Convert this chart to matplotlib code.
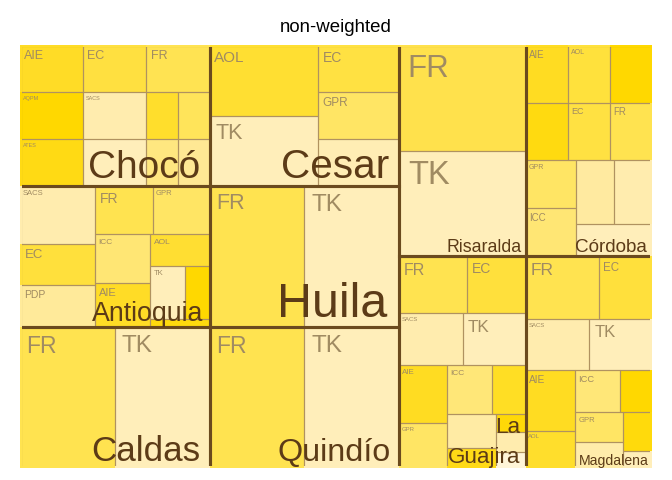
"""
Treemap of the non-weighted category shares per department.

The cells come from a squarified layout (rows start top-left, a row keeps
growing while the aspect ratio of its first cell does not get worse).
"""

import matplotlib
matplotlib.use('Agg')
import matplotlib.pyplot as plt
from matplotlib.patches import Rectangle

plt.rcParams['font.family'] = ['Liberation Sans', 'DejaVu Sans']

# ---- data -----------------------------------------------------------------
departments = ['Chocó', 'Antioquia', 'Caldas', 'Cesar', 'Huila', 'Quindío',
               'Risaralda', 'Córdoba', 'La Guajira', 'Magdalena']
dept_weight = [1, 1, 1, 1, 1, 1, 1, 1, 1, 1]   # non-weighted: equal share

sub_labels = {
    'Chocó':      ['AIE', 'AQPM', 'ATES', 'EC', 'FR', 'SACS', 'TK', '', '', '', ''],
    'Antioquia':  ['SACS', 'EC', 'PDP', 'FR', 'GPR', 'ICC', 'AIE', 'AOL', 'TK', 'AQPM', 'ATES'],
    'Caldas':     ['FR', 'TK'],
    'Cesar':      ['AOL', 'TK', 'EC', 'GPR', ''],
    'Huila':      ['FR', 'TK'],
    'Quindío':    ['FR', 'TK'],
    'Risaralda':  ['FR', 'TK'],
    'Córdoba':    ['AIE', 'AOL', 'AQPM', 'ATES', 'EC', 'FR', 'GPR', 'ICC', 'PDP', 'SACS', 'TK'],
    'La Guajira': ['FR', 'EC', 'SACS', 'TK', 'AIE', 'GPR', 'ICC', 'AOL', '', '', '', '', ''],
    'Magdalena':  ['FR', 'EC', 'SACS', 'TK', 'AIE', 'AOL', 'ICC', '', 'GPR', '', '', ''],
}
# share (%) of each category inside its department
sub_values = {
    'Chocó':      [11.1, 11.1, 11.1, 11.1, 11.1, 11.1, 11.1, 5.55, 5.55, 5.55, 5.55],
    'Antioquia':  [16.2, 11.7, 11.7, 10.4, 10.3, 10.1, 9.0, 7.0, 7.0, 4.8, 1.8],
    'Caldas':     [50, 50],
    'Cesar':      [28.6, 28.6, 14.3, 14.3, 14.3],
    'Huila':      [50, 50],
    'Quindío':    [50, 50],
    'Risaralda':  [50, 50],
    'Córdoba':    [9.09] * 11,
    'La Guajira': [14.5, 12.4, 12.3, 12.2, 10.4, 8.1, 8.2, 6.1, 6.1, 3.7, 2.04, 2.15, 1.81],
    'Magdalena':  [17.2, 12.3, 12.2, 12.0, 11.2, 6.9, 7.2, 5.0, 5.3, 4.7, 4.2, 1.8],
}

# ---- style ----------------------------------------------------------------
fills = {
    'Chocó':      ['#FFDC26', '#FFD800', '#FFDA14', '#FFE040', '#FFE352', '#FFECAE', '#FFEEBA',
                   '#FFDE2C', '#FFE45A', '#FFE780', '#FFE894'],
    'Antioquia':  ['#FFECAE', '#FFE03C', '#FFEA9A', '#FFE350', '#FFE564', '#FFE674', '#FFDC26',
                   '#FFDE32', '#FFEEBA', '#FFD800', '#FFDA0E'],
    'Caldas':     ['#FFE350', '#FFEEBA'],
    'Cesar':      ['#FFDF32', '#FFEEBA', '#FFE142', '#FFE564', '#FFEDB4'],
    'Huila':      ['#FFE350', '#FFEEBA'],
    'Quindío':    ['#FFE350', '#FFEEBA'],
    'Risaralda':  ['#FFE14C', '#FFEEBA'],
    'Córdoba':    ['#FFDC22', '#FFE13C', '#FFD800', '#FFDA10', '#FFE142', '#FFE350', '#FFE564',
                   '#FFE674', '#FFEAA0', '#FFECAE', '#FFEEBA'],
    'La Guajira': ['#FFE350', '#FFE03C', '#FFECAE', '#FFEEBA', '#FFDC22', '#FFE564', '#FFE778',
                   '#FFDE24', '#FFEBA4', '#FFDA16', '#FFD808', '#FFECAE', '#FFF5D8'],
    'Magdalena':  ['#FFE350', '#FFE03C', '#FFECAE', '#FFEEBA', '#FFDC22', '#FFDE2C', '#FFE778',
                   '#FFD800', '#FFE564', '#FFECAA', '#FFDA0C', '#FFEEBA'],
}
# label size (pt) of each category, 0 = not printed
sub_label_pt = {
    'Chocó':      [9, 4, 4, 9, 9, 4, 0, 0, 0, 0, 0],
    'Antioquia':  [5.5, 9.5, 7.5, 10, 5.5, 6, 8, 6, 5.5, 0, 0],
    'Caldas':     [16.5, 17.5],
    'Cesar':      [11, 15.5, 10, 8.5, 0],
    'Huila':      [15.5, 17.5],
    'Quindío':    [16.5, 17.5],
    'Risaralda':  [22.5, 23.5],
    'Córdoba':    [7, 5, 0, 0, 6.5, 7, 5, 7, 0, 0, 0],
    'La Guajira': [11.5, 10, 4.3, 12.3, 5.7, 4.3, 6, 0, 0, 0, 0, 0, 0],
    'Magdalena':  [12.5, 8.3, 4.3, 12, 7.3, 4.3, 6.7, 0, 5.5, 0, 0, 0],
}
dept_label_pt = {
    'Chocó': 28, 'Antioquia': 19.3, 'Caldas': 25.2, 'Cesar': 29.2, 'Huila': 34.8,
    'Quindío': 23.3, 'Risaralda': 12.8, 'Córdoba': 13.6, 'La Guajira': 16.2,
    'Magdalena': 10.1,
}
dept_label_text = {'La Guajira': 'La\nGuajira'}

SUB_TEXT = '#A08B62'
DEPT_TEXT = '#5C3B17'
CELL_EDGE = '#B09260'
DEPT_EDGE = '#6B4A1E'
PX_PER_PT = 100 / 72.0


def squarify(values, x, y, w, h):
    """Squarified layout; returns (x, y, w, h) per value, y pointing down."""
    total = float(sum(values))
    areas = [v * w * h / total for v in values]
    rects = []
    i, n = 0, len(areas)
    while i < n:
        side = min(w, h)

        def ratio(row):
            t = sum(row) / side
            length = row[0] / t
            return max(t / length, length / t)

        row = [areas[i]]
        j = i + 1
        while j < n and ratio(row + [areas[j]]) <= ratio(row):
            row.append(areas[j])
            j += 1
        t = sum(row) / side
        if w >= h:      # column on the left
            yy = y
            for a in row:
                rects.append((x, yy, t, a / t))
                yy += a / t
            x += t
            w -= t
        else:           # row on top
            xx = x
            for a in row:
                rects.append((xx, y, a / t, t))
                xx += a / t
            y += t
            h -= t
        i = j
    return rects


def main():
    W, H = 632, 423
    fig = plt.figure(figsize=(6.72, 4.8), dpi=100)
    ax = fig.add_axes([20 / 672, 12 / 480, W / 672, H / 480])
    ax.set_xlim(0, W)
    ax.set_ylim(H, 0)
    ax.axis('off')

    # borders on the outer edge of the plot are not visible in the original
    edge_clip = Rectangle((1.6, 1.6), W - 3.2, H - 3.2, transform=ax.transData)

    dept_rects = squarify(dept_weight, 0, 0, W, H)
    for dept, (dx, dy, dw, dh) in zip(departments, dept_rects):
        cells = squarify(sub_values[dept], dx, dy, dw, dh)
        for (cx, cy, cw, ch), lab, col, pt in zip(cells, sub_labels[dept],
                                                  fills[dept], sub_label_pt[dept]):
            ax.add_patch(Rectangle((cx, cy), cw, ch, facecolor=col,
                                   edgecolor='none', zorder=1))
            edge = Rectangle((cx, cy), cw, ch, facecolor='none',
                             edgecolor=CELL_EDGE, lw=0.8, zorder=2)
            ax.add_patch(edge)
            edge.set_clip_path(edge_clip)
            if lab and pt > 0:
                px = pt * PX_PER_PT
                ax.text(cx + 1.5 + 0.22 * px, cy + 2.5 + 0.22 * px, lab,
                        ha='left', va='top', fontsize=pt, color=SUB_TEXT,
                        zorder=4, clip_on=True)

        border = Rectangle((dx, dy), dw, dh, facecolor='none',
                           edgecolor=DEPT_EDGE, lw=2.2, zorder=3)
        ax.add_patch(border)
        border.set_clip_path(edge_clip)

        pt = dept_label_pt[dept]
        ax.text(dx + dw - 0.25 * pt * PX_PER_PT, dy + dh,
                dept_label_text.get(dept, dept), ha='right', va='bottom',
                multialignment='right', linespacing=1.55,
                fontsize=pt, color=DEPT_TEXT, zorder=5, clip_on=True)

    fig.text(0.5, 1 - 28 / 480, 'non-weighted', ha='center', va='center',
             fontsize=13.4, color='black')

    fig.savefig('out.png', dpi=100, facecolor='white')
    plt.close(fig)


if __name__ == '__main__':
    main()
